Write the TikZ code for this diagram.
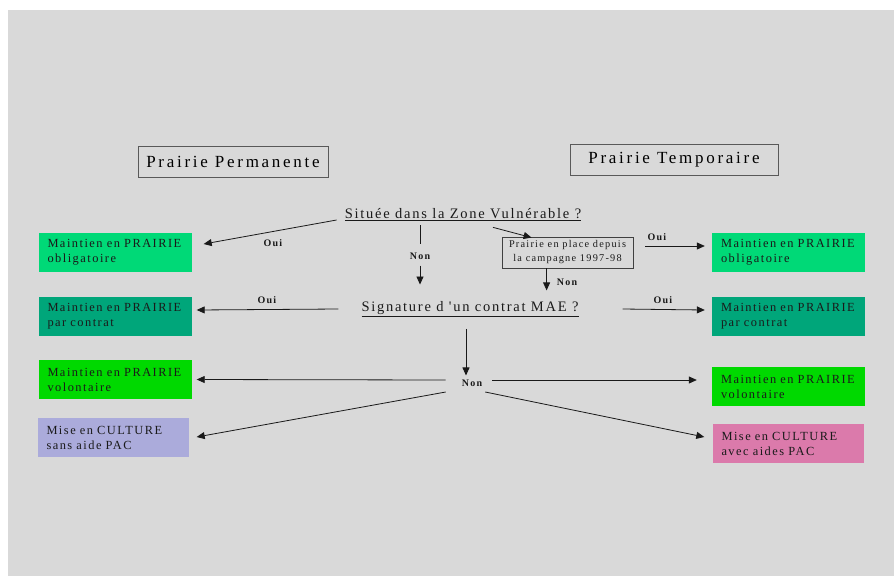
\documentclass[tikz,border=0pt]{standalone}
\usepackage{fontspec}
\setmainfont{Liberation Serif}
\usetikzlibrary{arrows.meta,calc}
\definecolor{bg}{HTML}{D9D9D9}
\definecolor{gA}{HTML}{00D977}
\definecolor{gB}{HTML}{00A67A}
\definecolor{gC}{HTML}{00D900}
\definecolor{lav}{HTML}{ABABDB}
\definecolor{pinkc}{HTML}{DB7AAB}
\definecolor{txt}{HTML}{1A1A1A}
\newfontfamily\spaced{Liberation Serif}[LetterSpace=12]
\newfontfamily\wide{Liberation Serif}[LetterSpace=16]
\tikzset{
  titlebox/.style={draw=black!65, line width=1pt, minimum height=31pt, inner sep=0pt,
    font=\wide\fontsize{17}{19}\selectfont, text=black},
  question/.style={inner sep=1pt, font=\spaced\fontsize{14.5}{16}\selectfont, text=txt},
  choice/.style={minimum height=39pt, inner xsep=9pt, inner ysep=0pt, text width=135pt, align=left,
    font=\spaced\fontsize{12.4}{15}\selectfont, text=txt},
  smallbox/.style={draw=black!75, line width=0.8pt, minimum width=131pt, minimum height=31pt, inner sep=0pt,
    align=center, font=\spaced\fontsize{10.3}{14}\selectfont, text=txt},
  lab/.style={inner sep=1pt, font=\spaced\bfseries\fontsize{10}{11}\selectfont, text=txt},
  arr/.style={line width=0.8pt, draw=black!90, -{Triangle[length=8pt,width=7pt]}},
  ln/.style={line width=0.8pt, draw=black!90},
}
\begin{document}
\begin{tikzpicture}[x=1pt,y=-1pt]
\useasboundingbox (0,0) rectangle (894,576);
\fill[bg] (8,10) rectangle (894,576);

\node[titlebox, minimum width=190pt] (pp) at (233,161.5) {Prairie Permanente};
\node[titlebox, minimum width=208pt] (pt) at (674,159.5) {Prairie Temporaire};

\node[question] (q1) at (463,215) {\underline{Située dans la Zone Vulnérable ?}};
\node[question] (q2) at (470,309) {\underline{Signature d 'un contrat MAE ?}};
\node[smallbox] (pl) at (567.5,252.5) {Prairie en place depuis\\la campagne 1997-98};

\node[choice, fill=gA] (lob) at (115,252.5) {Maintien en PRAIRIE\\obligatoire};
\node[choice, fill=gB] (lpc) at (115,316) {Maintien en PRAIRIE\\par contrat};
\node[choice, fill=gC] (lvo) at (115,379.5) {Maintien en PRAIRIE\\volontaire};
\node[choice, fill=lav, text width=133pt] (lcu) at (113,437.5) {Mise en CULTURE\\sans aide PAC};

\node[choice, fill=gA] (rob) at (788.5,252.5) {Maintien en PRAIRIE\\obligatoire};
\node[choice, fill=gB] (rpc) at (788.5,316) {Maintien en PRAIRIE\\par contrat};
\node[choice, fill=gC] (rvo) at (788.5,386.5) {Maintien en PRAIRIE\\volontaire};
\node[choice, fill=pinkc, text width=133pt] (rcu) at (788,443.5) {Mise en CULTURE\\avec aides PAC};

\node[lab] (oui1) at (273,243) {Oui};
\node[lab] (non1) at (420,256) {Non};
\node[lab] (non2) at (567,282) {Non};
\node[lab] (oui2) at (267,300) {Oui};
\node[lab] (oui3) at (657,237) {Oui};
\node[lab] (oui4) at (663,300) {Oui};
\node[lab] (non3) at (472,383) {Non};

% connectors
\draw[arr] ($(q1.west)+(-7,5)$) -- ($(lob.east)+(12,-8.5)$);
\draw[ln] ($(non1.north)+(0,-26)$) -- ($(non1.north)+(0,-7)$);
\draw[arr] ($(non1.south)+(0,5)$) -- ($(non1.south)+(0,24)$);
\draw[arr] ($(q1.south)+(30,5)$) -- ($(pl.north west)+(30,1)$);
\draw[arr] ($(pl.south west)+(45,0)$) -- ($(pl.south west)+(45,22)$);
\draw[arr] ($(pl.east)+(12,-6.5)$) -- ($(rob.west)+(-7,-6.5)$);
\draw[arr] ($(q2.west)+(-22,0)$) -- ($(lpc.east)+(5,-6)$);
\draw[arr] ($(q2.east)+(43,0)$) -- ($(rpc.west)+(-7,-6)$);
\draw[arr] ($(q2.south)+(-4,11)$) -- ($(non3.north)+(-6,-3)$);
\draw[arr] ($(non3.west)+(-15,-3)$) -- ($(lvo.east)+(5,0)$);
\draw[arr] ($(non3.east)+(9,-3)$) -- ($(rvo.west)+(-15,-6.5)$);
\draw[arr] ($(non3.west)+(-15,9)$) -- ($(lcu.east)+(8,-0.5)$);
\draw[arr] ($(non3.east)+(2,9)$) -- ($(rcu.west)+(-8,-6.5)$);
\end{tikzpicture}
\end{document}
